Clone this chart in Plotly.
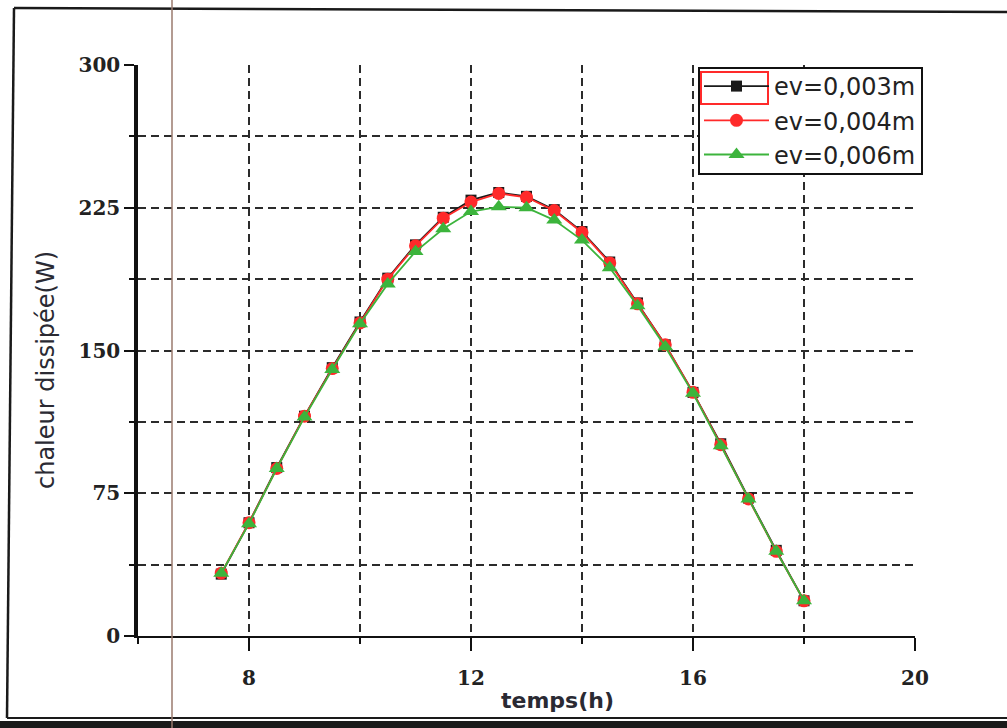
import plotly.graph_objects as go

# Heure de la journée (h)
hours = [7.5, 8, 8.5, 9, 9.5, 10, 10.5, 11, 11.5, 12, 12.5,
         13, 13.5, 14, 14.5, 15, 15.5, 16, 16.5, 17, 17.5, 18]

# Chaleur dissipée (W) pour chaque épaisseur ev
q_ev003 = [32.5, 59.5, 88.5, 115.5, 141, 165, 188, 205.5, 220, 229, 233,
           231, 224, 212.5, 196.5, 175, 153, 128, 101, 72.5, 45, 18.5]
q_ev004 = [33, 59.5, 88, 115.5, 140.5, 164.5, 187.5, 205, 219.5, 228, 232.5,
           230.5, 223.5, 212, 196, 174.5, 153, 128, 100.5, 72, 44.5, 18.5]
q_ev006 = [33, 59, 88, 115, 140, 164, 185, 202, 214, 223, 225.5,
           225, 218.5, 208, 193.5, 173.5, 152, 127.5, 100, 72, 44.5, 18.5]

series_names = ["ev=0,003m", "ev=0,004m", "ev=0,006m"]
x_ticks = [8, 12, 16, 20]
y_ticks = [0, 75, 150, 225, 300]

W, H = 1007, 728
L, R, T, B = 138, 92, 65, 92
PW, PH = W - L - R, H - T - B


def px(x):
    return (x - L) / PW


def py(y):
    return (H - B - y) / PH


fig = go.Figure()

styles = [
    dict(color="#1a1a1a", symbol="square", size=11, lw=1.8),
    dict(color="#ff2a2a", symbol="circle", size=13, lw=1.8),
    dict(color="#3cb43c", symbol="triangle-up", size=14, lw=1.8),
]
for name, ys, st in zip(series_names, [q_ev003, q_ev004, q_ev006], styles):
    fig.add_trace(go.Scatter(
        x=hours, y=ys, name=name, mode="lines+markers",
        line=dict(color=st["color"], width=st["lw"]),
        marker=dict(symbol=st["symbol"], size=st["size"], color=st["color"]),
    ))

grid = dict(gridcolor="#2b2b2b", gridwidth=2.2, griddash="8px,5px")
tick_font = dict(family="DejaVu Serif", size=20, color="#222", weight="bold")

fig.update_xaxes(
    range=[6, 20], tickvals=x_ticks, ticktext=[str(v) for v in x_ticks],
    ticks="outside", ticklen=13, tickwidth=2, tickcolor="#111",
    showline=True, linecolor="#111", linewidth=2,
    showgrid=True, **grid, zeroline=False,
    minor=dict(dtick=2, tick0=0, ticks="outside", ticklen=6, tickwidth=2,
               tickcolor="#111", showgrid=True, **grid),
    tickfont=tick_font,
    ticklabelstandoff=10,
)
fig.update_yaxes(
    range=[0, 300], tickvals=y_ticks, ticktext=[str(v) for v in y_ticks],
    ticks="outside", ticklen=10, tickwidth=2, tickcolor="#111",
    showline=True, linecolor="#111", linewidth=3.5,
    showgrid=True, **grid, zeroline=False,
    minor=dict(dtick=37.5, tick0=0, ticks="outside", ticklen=5, tickwidth=2,
               tickcolor="#111", showgrid=True, **grid),
    tickfont=tick_font,
    ticklabelstandoff=0,
)


def seg(x0, y0, x1, y1, color="#1a1a1a", width=2.5):
    return dict(type="line", xref="paper", yref="paper",
                x0=px(x0), y0=py(y0), x1=px(x1), y1=py(y1),
                line=dict(color=color, width=width))


def box(x0, y0, x1, y1, **kw):
    return dict(type="rect", xref="paper", yref="paper",
                x0=px(x0), x1=px(x1), y0=py(y1), y1=py(y0), **kw)


shapes = [
    # cadre extérieur
    seg(14, 8, 1007, 12, width=2.5),
    seg(14, 8, 7, 718, width=2.5),
    seg(7, 718, 1007, 718, width=2),
    box(0, 721, 1007, 728, fillcolor="#1a1a1a", line=dict(width=0)),
    # trait vertical brun
    seg(172, 0, 172, 728, color="#9a7a6e", width=1.5),
    # cadre de la légende
    box(699, 68, 922, 174, fillcolor="white", line=dict(color="#111", width=2)),
    # repère rouge autour du premier symbole de la légende
    box(701, 72, 768, 104, line=dict(color="#ff2a2a", width=2)),
]

annotations = [
    dict(text="chaleur dissipée(W)", xref="paper", yref="paper",
         x=px(46), y=py(370), textangle=-90, showarrow=False,
         font=dict(family="DejaVu Sans", size=24, color="#2a2a33"),
         xanchor="center", yanchor="middle"),
    dict(text="<b>temps(h)</b>", xref="paper", yref="paper",
         x=px(557), y=py(700), showarrow=False,
         font=dict(family="DejaVu Sans", size=22, color="#2a2a33"),
         xanchor="center", yanchor="middle"),
]

fig.update_layout(
    width=W, height=H,
    margin=dict(l=L, r=R, t=T, b=B),
    paper_bgcolor="white", plot_bgcolor="white",
    shapes=shapes, annotations=annotations,
    legend=dict(
        x=px(699), y=py(64), xanchor="left", yanchor="top",
        bgcolor="rgba(0,0,0,0)", borderwidth=0,
        font=dict(family="DejaVu Sans", size=24, color="#222"),
        itemwidth=65, tracegroupgap=0,
    ),
)

fig.write_html("out.html")
